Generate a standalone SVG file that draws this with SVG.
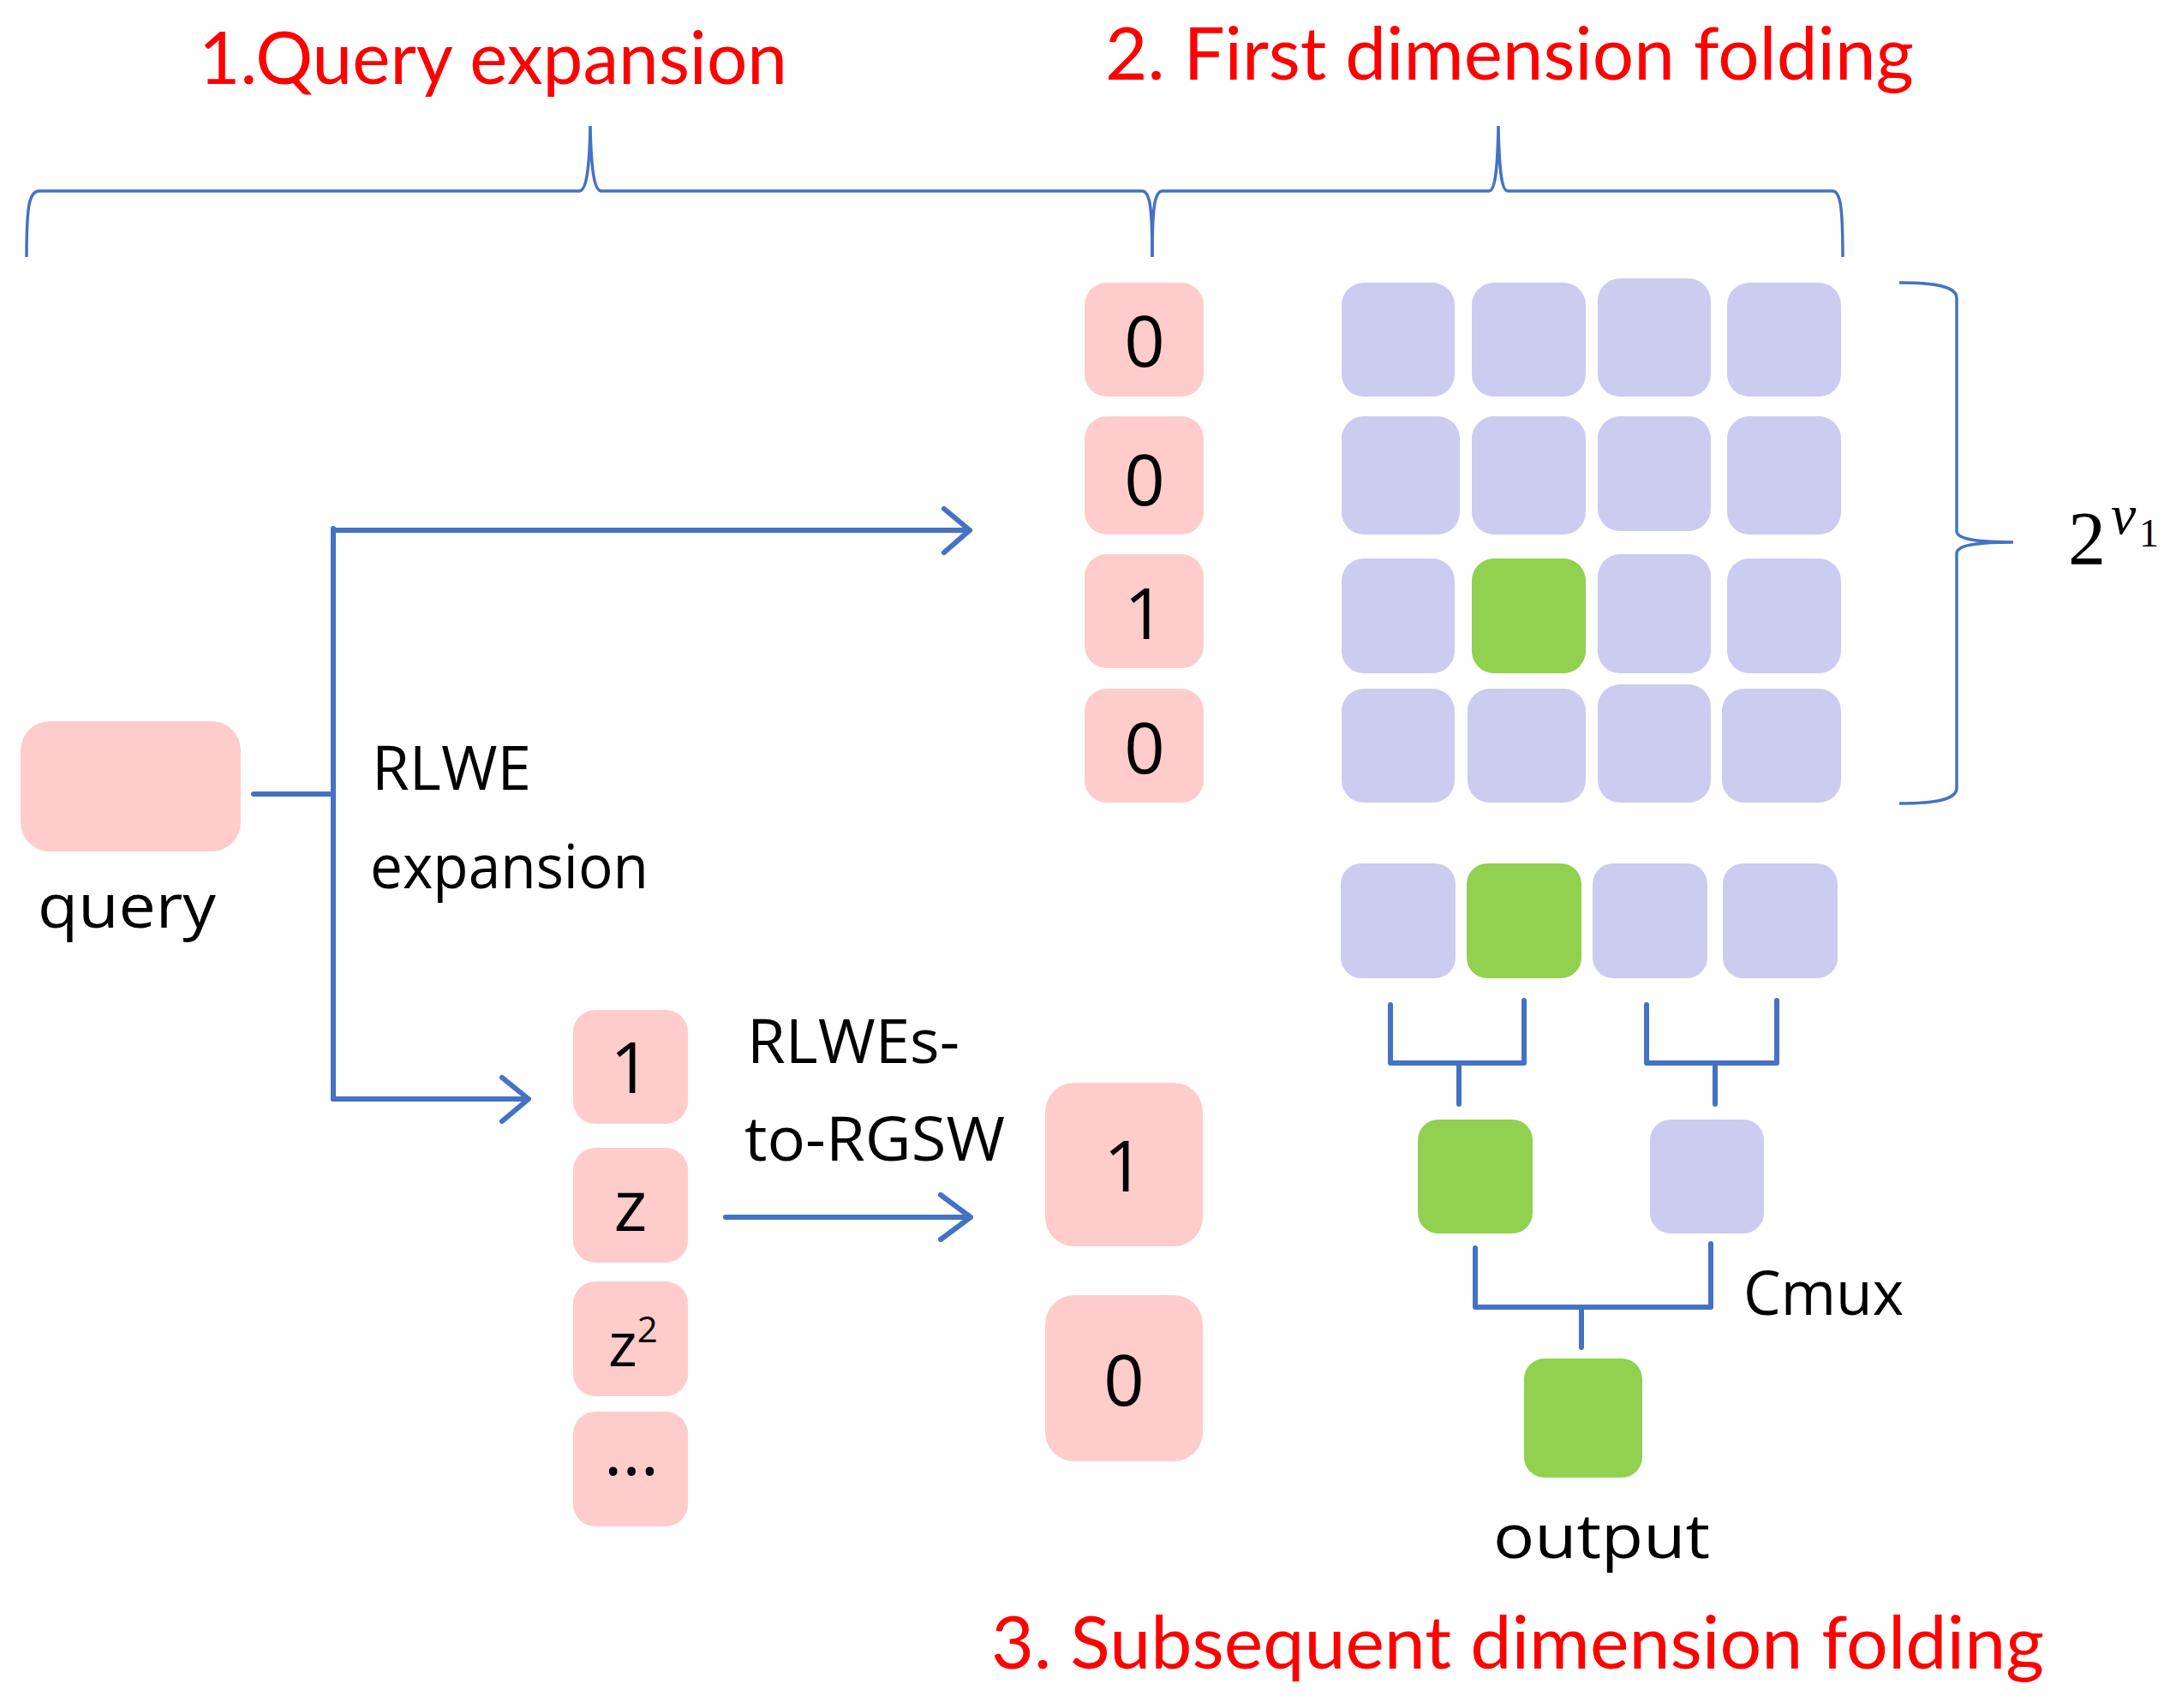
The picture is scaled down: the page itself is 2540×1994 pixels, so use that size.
<svg xmlns="http://www.w3.org/2000/svg" width="2540" height="1994" viewBox="0 0 2540 1994">
<style>
.pk{fill:#FFCCCC}
.lv{fill:#CCCCF0}
.gr{fill:#92D050}
.ln{fill:none;stroke:#4472C4;stroke-width:6;stroke-linecap:round;stroke-linejoin:round}
.br{fill:none;stroke:#4472C4;stroke-width:3.5}
.ttl{font-family:Lato,"Open Sans","Liberation Sans",sans-serif;font-size:86px;fill:#FF0000}
.lb{font-family:"Open Sans","Noto Sans","Liberation Sans",sans-serif;font-size:72px;fill:#000}
.dg{font-family:"Open Sans","Noto Sans","Liberation Sans",sans-serif;font-size:83px;fill:#000;text-anchor:middle}
.mt{font-family:"Liberation Serif","DejaVu Serif",serif;fill:#000}
</style>
<rect width="2540" height="1994" fill="#fff"/>
<g id="titles">
<text class="ttl" x="232" y="98" textLength="687" lengthAdjust="spacingAndGlyphs">1.Query expansion</text>
<text class="ttl" x="1290" y="93" textLength="944" lengthAdjust="spacingAndGlyphs">2. First dimension folding</text>
<text class="ttl" x="1157" y="1948" textLength="1229" lengthAdjust="spacingAndGlyphs">3. Subsequent dimension folding</text>
</g>
<g id="braces">
<path class="br" d="M31,300 C31,240 34,223 46,223 L676,223 C684,223 688,200 689,147 C690,200 694,223 702,223 L1333,223 C1342,223 1345,240 1345,300"/>
<path class="br" d="M1345,300 C1345,240 1348,223 1357,223 L1738,223 C1745,223 1748,200 1749,147 C1750,200 1753,223 1760,223 L2139,223 C2148,223 2151,240 2151,300"/>
<path class="br" d="M2217,330 C2262,330 2284,335 2284,348 L2284,620 C2284,628 2300,633 2350,633 C2300,633 2284,638 2284,646 L2284,920 C2284,933 2262,938 2217,938"/>
</g>
<g id="label-2v1">
<text class="mt" x="2414" y="658" font-size="88">2</text>
<text class="mt" x="2464" y="623" font-size="66" font-style="italic">v</text>
<text class="mt" x="2497" y="638" font-size="46">1</text>
</g>
<g id="query">
<rect class="pk" x="24" y="842" width="257" height="152" rx="34"/>
<text class="lb" x="44" y="1083" textLength="208" lengthAdjust="spacingAndGlyphs">query</text>
</g>
<g id="label-rlwe">
<text class="lb" x="434" y="922" textLength="186" lengthAdjust="spacingAndGlyphs">RLWE</text>
<text class="lb" x="432" y="1037" textLength="325" lengthAdjust="spacingAndGlyphs">expansion</text>
</g>
<g id="label-rlwes">
<text class="lb" x="872" y="1241" textLength="248" lengthAdjust="spacingAndGlyphs">RLWEs-</text>
<text class="lb" x="869" y="1355" textLength="304" lengthAdjust="spacingAndGlyphs">to-RGSW</text>
</g>
<g id="selector-column">
<rect class="pk" x="1266" y="330" width="139" height="133" rx="26"/>
<rect class="pk" x="1266" y="486" width="139" height="138" rx="26"/>
<rect class="pk" x="1266" y="647" width="139" height="133" rx="26"/>
<rect class="pk" x="1266" y="804" width="139" height="133" rx="26"/>
<text class="dg" x="1336" y="428">0</text>
<text class="dg" x="1336" y="590">0</text>
<text class="dg" x="1336" y="746">1</text>
<text class="dg" x="1336" y="903">0</text>
</g>
<g id="expansion-column">
<rect class="pk" x="669" y="1179" width="134" height="133" rx="26"/>
<rect class="pk" x="669" y="1340" width="134" height="134" rx="26"/>
<rect class="pk" x="669" y="1496" width="134" height="134" rx="26"/>
<rect class="pk" x="669" y="1648" width="134" height="134" rx="26"/>
<text class="dg" x="736" y="1276">1</text>
<text class="dg" x="736" y="1437" font-size="76">z</text>
<text class="lb" x="710" y="1595" font-size="78">z<tspan font-size="42" dy="-28">2</tspan></text>
<text class="dg" x="737" y="1722" font-size="72">…</text>
</g>
<g id="rgsw-column">
<rect class="pk" x="1220" y="1264" width="184" height="191" rx="34"/>
<rect class="pk" x="1220" y="1512" width="184" height="194" rx="34"/>
<text class="dg" x="1312" y="1391">1</text>
<text class="dg" x="1312" y="1641">0</text>
</g>
<g id="database">
<rect class="lv" x="1566" y="330" width="132" height="133" rx="26"/>
<rect class="lv" x="1718" y="330" width="133" height="133" rx="26"/>
<rect class="lv" x="1865" y="325" width="132" height="138" rx="26"/>
<rect class="lv" x="2016" y="330" width="133" height="133" rx="26"/>
<rect class="lv" x="1566" y="486" width="138" height="138" rx="26"/>
<rect class="lv" x="1718" y="486" width="133" height="138" rx="26"/>
<rect class="lv" x="1865" y="486" width="132" height="134" rx="26"/>
<rect class="lv" x="2016" y="486" width="133" height="138" rx="26"/>
<rect class="lv" x="1566" y="652" width="132" height="134" rx="26"/>
<rect class="gr" x="1718" y="652" width="133" height="134" rx="26"/>
<rect class="lv" x="1865" y="647" width="132" height="139" rx="26"/>
<rect class="lv" x="2016" y="652" width="133" height="134" rx="26"/>
<rect class="lv" x="1566" y="804" width="132" height="133" rx="26"/>
<rect class="lv" x="1713" y="804" width="138" height="133" rx="26"/>
<rect class="lv" x="1865" y="799" width="132" height="138" rx="26"/>
<rect class="lv" x="2010" y="804" width="139" height="133" rx="26"/>
</g>
<g id="folded-row">
<rect class="lv" x="1565" y="1008" width="134" height="134" rx="24"/>
<rect class="gr" x="1712" y="1008" width="134" height="134" rx="24"/>
<rect class="lv" x="1859" y="1008" width="134" height="134" rx="24"/>
<rect class="lv" x="2011" y="1008" width="134" height="134" rx="24"/>
</g>
<g id="cmux-level">
<rect class="gr" x="1655" y="1307" width="134" height="133" rx="24"/>
<rect class="lv" x="1926" y="1307" width="133" height="133" rx="24"/>
</g>
<g id="output">
<rect class="gr" x="1779" y="1586" width="138" height="139" rx="24"/>
<text class="lb" x="1743" y="1819" textLength="253" lengthAdjust="spacingAndGlyphs">output</text>
</g>
<g id="label-cmux">
<text class="lb" x="2035" y="1535" textLength="187" lengthAdjust="spacingAndGlyphs">Cmux</text>
</g>
<g id="connectors">
<path class="ln" d="M296,927 H389"/>
<path class="ln" d="M389,617 V1283"/>
<path class="ln" d="M389,619 H1132 M1102,594 L1132,619 L1102,645"/>
<path class="ln" d="M389,1283 H617 M586,1258 L617,1283 L586,1309"/>
<path class="ln" d="M847,1421 H1133 M1098,1395 L1133,1421 L1098,1447"/>
<path class="ln" d="M1623,1173 V1241 H1779 V1168 M1703,1241 V1289"/>
<path class="ln" d="M1922,1173 V1241 H2074 V1168 M2002,1241 V1289"/>
<path class="ln" d="M1722,1457 V1526 H1997 V1452 M1846,1526 V1573"/>
</g>
</svg>
